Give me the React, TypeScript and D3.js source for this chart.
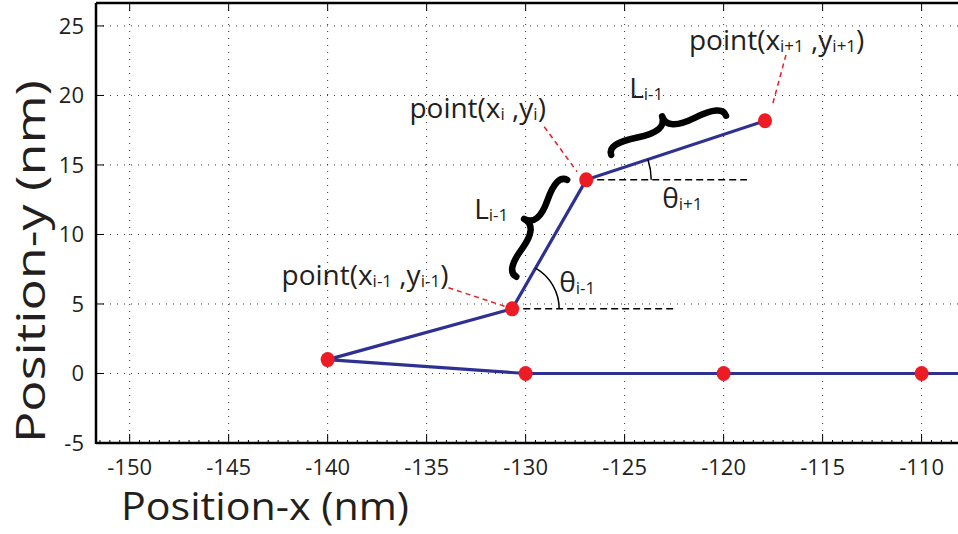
import * as d3 from "d3";
import React from "react";

// polyline of the chain (nm), drawn from the right end back to the top point
const chainX = [-100, -110, -120, -130, -140, -130.68, -126.94, -117.91];
const chainY = [0, 0, 0, 0, 1, 4.65, 13.93, 18.18];

const xTicks = [-150, -145, -140, -135, -130, -125, -120, -115, -110];
const yTicks = [-5, 0, 5, 10, 15, 20, 25];

// annotation anchors in data units
const braceTop = [[-125.68, 15.73], [-119.88, 18.54]];
const braceLeft = [[-130.47, 6.96], [-127.9, 13.93]];
const leaders = [
  [[-116.85, 22.92], [-117.56, 19.18]],
  [[-129.06, 17.75], [-127.4, 14.51]],
  [[-133.9, 6.17], [-130.98, 4.8]],
];
const refLines = [
  [[-126.94, 13.93], [-118.82, 13.93]],
  [[-130.68, 4.65], [-122.5, 4.65]],
];

const width = 958;
const height = 534;
const plot = { left: 96, top: 3, bottom: 443 };
const font = "'Open Sans', 'Noto Sans', sans-serif";

const x = d3.scaleLinear().domain([-151.7, -107]).range([plot.left, 981]);
const y = d3.scaleLinear().domain([-5, 26.65]).range([plot.bottom, plot.top]);

// curly brace between two points, tip offset by w
function brace(x1: number, y1: number, x2: number, y2: number, w: number, q: number) {
  let dx = x1 - x2;
  let dy = y1 - y2;
  const len = Math.sqrt(dx * dx + dy * dy);
  dx /= len;
  dy /= len;
  const qx1 = x1 + q * w * dy, qy1 = y1 - q * w * dx;
  const qx2 = x1 - 0.25 * len * dx + (1 - q) * w * dy;
  const qy2 = y1 - 0.25 * len * dy - (1 - q) * w * dx;
  const tx = x1 - 0.5 * len * dx + w * dy, ty = y1 - 0.5 * len * dy - w * dx;
  const qx3 = x2 + q * w * dy, qy3 = y2 - q * w * dx;
  const qx4 = x1 - 0.75 * len * dx + (1 - q) * w * dy;
  const qy4 = y1 - 0.75 * len * dy - (1 - q) * w * dx;
  return `M${x1},${y1} Q${qx1},${qy1} ${qx2},${qy2} T${tx},${ty} M${x2},${y2} Q${qx3},${qy3} ${qx4},${qy4} T${tx},${ty}`;
}

function angleArc(i0: number, i1: number, r: number) {
  const cx = x(chainX[i0]), cy = y(chainY[i0]);
  const phi = Math.atan2(y(chainY[i1]) - cy, x(chainX[i1]) - cx);
  const p = d3.path();
  p.arc(cx, cy, r, phi, 0);
  return p.toString();
}

const Sub = ({ parts, px, py, size, sub }: any) => (
  <text x={px} y={py} fontFamily={font} fontSize={size} fill="#231f20">
    {parts.map((p: [string, boolean], i: number) => (
      <tspan key={i} fontSize={p[1] ? sub : size} dy={p[1] ? 2 : i > 0 && parts[i - 1][1] ? -2 : 0}>
        {p[0]}
      </tspan>
    ))}
  </text>
);

export default function App() {
  const pts = chainX.map((v, i) => [v, chainY[i]] as [number, number]);
  const line = d3.line<[number, number]>().x((d) => x(d[0])).y((d) => y(d[1]));
  const minor = d3.range(-151.5, -107, 0.5).filter((v) => v % 5 !== 0);

  return (
    <div style={{ width, height, background: "#fff" }}>
      <style>{`body{margin:0}`}</style>
      <svg width={width} height={height}>
        <defs>
          <clipPath id="plot">
            <rect x={plot.left} y={plot.top} width={width - plot.left} height={plot.bottom - plot.top} />
          </clipPath>
        </defs>
        {/* grid */}
        <g stroke="#333" strokeWidth={1} strokeDasharray="1,6">
          {xTicks.map((t) => (
            <line key={t} x1={x(t)} x2={x(t)} y1={plot.top} y2={plot.bottom} />
          ))}
          {yTicks.map((t) => (
            <line key={t} x1={plot.left} x2={width} y1={y(t)} y2={y(t)} />
          ))}
        </g>
        {/* ticks */}
        <g stroke="#000" strokeWidth={1}>
          {xTicks.map((t) => (
            <g key={t}>
              <line x1={x(t)} x2={x(t)} y1={plot.bottom} y2={plot.bottom - 9} />
              <line x1={x(t)} x2={x(t)} y1={plot.top} y2={plot.top + 8} />
            </g>
          ))}
          {minor.map((t) => (
            <line key={t} x1={x(t)} x2={x(t)} y1={plot.bottom} y2={plot.bottom - 3} />
          ))}
          {yTicks.map((t) => (
            <line key={t} x1={plot.left} x2={plot.left + 8} y1={y(t)} y2={y(t)} />
          ))}
        </g>
        {/* frame */}
        <g stroke="#000" strokeWidth={2.5} fill="none">
          <line x1={plot.left} x2={width} y1={plot.bottom} y2={plot.bottom} />
          <line x1={plot.left} x2={width} y1={plot.top} y2={plot.top} />
          <line x1={plot.left} x2={plot.left} y1={plot.top} y2={plot.bottom + 1} />
        </g>
        {/* tick labels */}
        <g fontFamily={font} fontSize={22} fill="#231f20">
          {xTicks.map((t) => (
            <text key={t} x={x(t)} y={475} textAnchor="middle">
              {t}
            </text>
          ))}
          {yTicks.map((t) => (
            <text key={t} x={84} y={y(t)} dy="0.36em" textAnchor="end">
              {t}
            </text>
          ))}
        </g>
        <text x={121} y={520} fontFamily={font} fontSize={38} fill="#231f20" textLength={288} lengthAdjust="spacingAndGlyphs">
          Position-x (nm)
        </text>
        <text
          transform={`translate(45,443) rotate(-90)`}
          fontFamily={font}
          fontSize={41}
          fill="#231f20"
          textLength={363}
          lengthAdjust="spacingAndGlyphs"
        >
          Position-y (nm)
        </text>

        <g clipPath="url(#plot)">
          {/* reference dashed lines */}
          {refLines.map((l, i) => (
            <line key={i} x1={x(l[0][0])} y1={y(l[0][1])} x2={x(l[1][0])} y2={y(l[1][1])} stroke="#000" strokeWidth={1.5} strokeDasharray="7,4" />
          ))}
          {leaders.map((l, i) => (
            <line key={i} x1={x(l[0][0])} y1={y(l[0][1])} x2={x(l[1][0])} y2={y(l[1][1])} stroke="#ed1c24" strokeWidth={1.5} strokeDasharray="5,4" />
          ))}
          <path d={line(pts) || ""} fill="none" stroke="#2e3192" strokeWidth={3.2} />
          {pts.map((p, i) => (
            <ellipse key={i} cx={x(p[0])} cy={y(p[1])} rx={7} ry={7.5} fill="#ed1c24" />
          ))}
          {/* angle arcs */}
          <path d={angleArc(6, 7, 65)} fill="none" stroke="#000" strokeWidth={1.5} />
          <path d={angleArc(5, 6, 47)} fill="none" stroke="#000" strokeWidth={1.5} />
          {/* braces */}
          {[braceTop, braceLeft].map((b, i) => (
            <path
              key={i}
              d={brace(x(b[0][0]), y(b[0][1]), x(b[1][0]), y(b[1][1]), -20, 0.6)}
              fill="none"
              stroke="#000"
              strokeWidth={6.5}
              strokeLinecap="round"
            />
          ))}
        </g>

        {/* labels */}
        <Sub px={x(-121.75)} py={y(23.28)} size={28} sub={17} parts={[["point(x", false], ["i+1", true], [" ,y", false], ["i+1", true], [")", false]]} />
        <Sub px={x(-135.87)} py={y(18.4)} size={28} sub={17} parts={[["point(x", false], ["i", true], [" ,y", false], ["i", true], [")", false]]} />
        <Sub px={x(-142.33)} py={y(6.36)} size={28} sub={17} parts={[["point(x", false], ["i-1", true], [" ,y", false], ["i-1", true], [")", false]]} />
        <Sub px={x(-124.77)} py={y(19.83)} size={28} sub={17} parts={[["L", false], ["i-1", true]]} />
        <Sub px={x(-132.6)} py={y(11.13)} size={28} sub={17} parts={[["L", false], ["i-1", true]]} />
        <Sub px={x(-123.1)} py={y(11.9)} size={28} sub={17} parts={[["θ", false], ["i+1", true]]} />
        <Sub px={x(-128.3)} py={y(5.86)} size={28} sub={17} parts={[["θ", false], ["i-1", true]]} />
      </svg>
    </div>
  );
}
